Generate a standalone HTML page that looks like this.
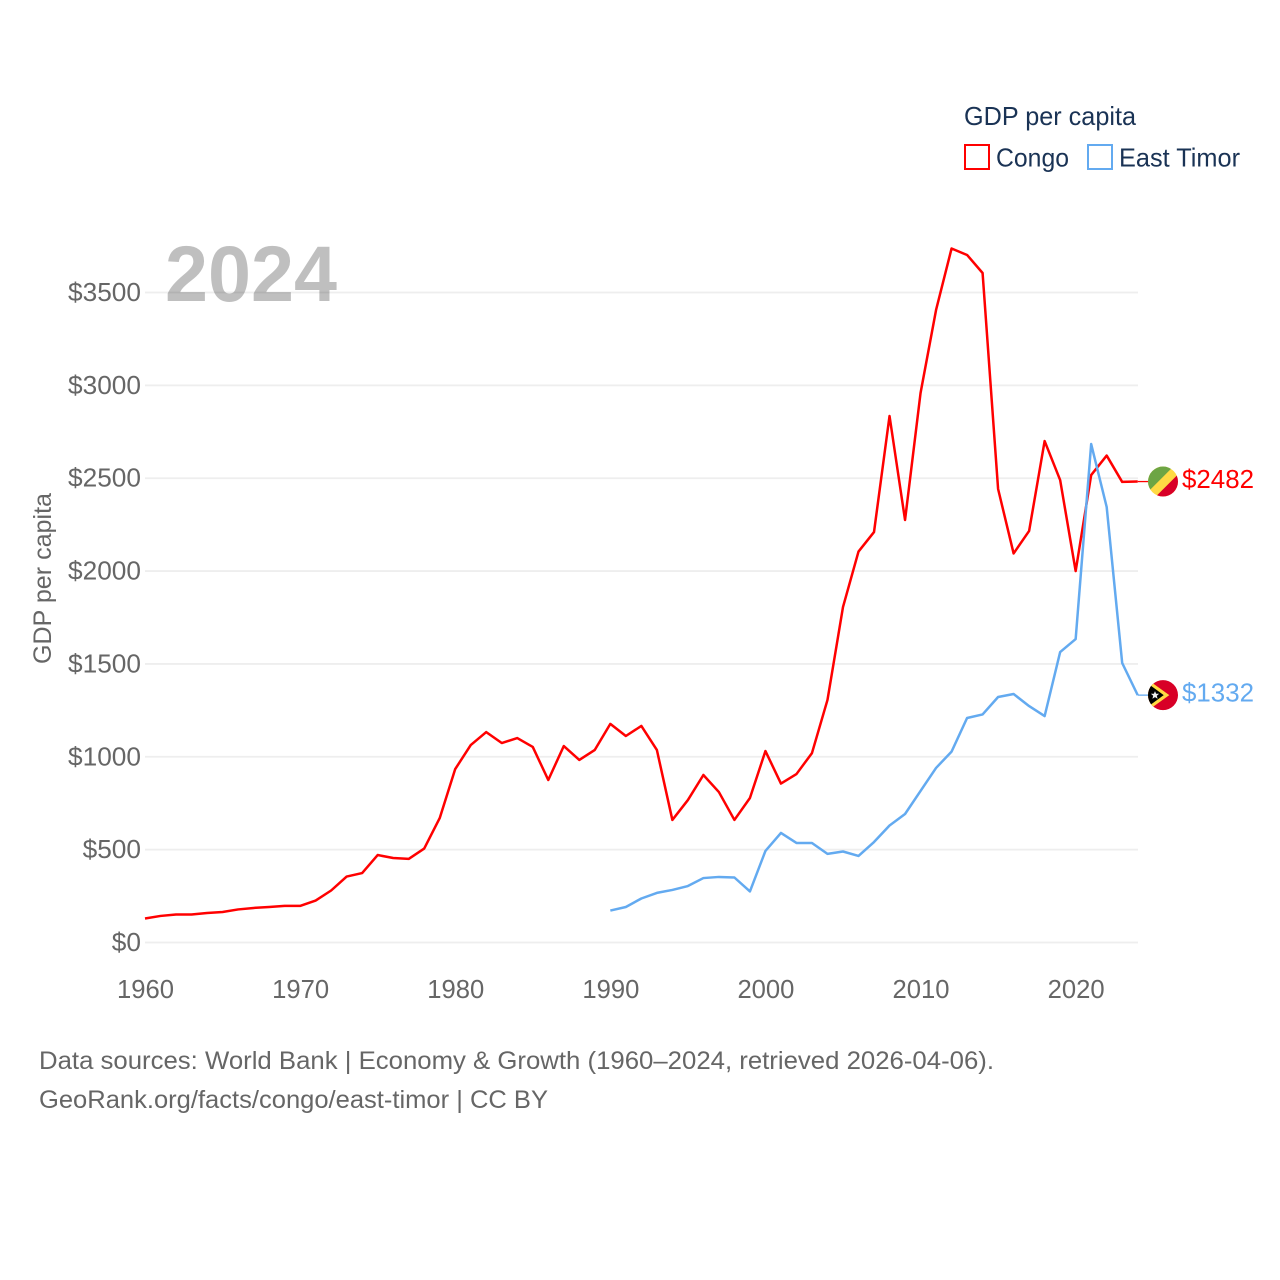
<!DOCTYPE html>
<html lang="en">
<head>
<meta charset="utf-8">
<title>GDP per capita: Congo and East Timor</title>
<style>
html,body{margin:0;padding:0;background:#fff;width:1280px;height:1280px;overflow:hidden}
svg{display:block}
text{font-family:"Liberation Sans",sans-serif}
</style>
</head>
<body>
<svg id="chart" xmlns="http://www.w3.org/2000/svg" width="1280" height="1280" viewBox="0 0 1280 1280">
  <rect x="0" y="0" width="1280" height="1280" fill="#fff"/>
  <g id="grid"></g>
  <g id="yticks"></g>
  <g id="xticks"></g>
  <text x="165" y="301" font-size="79" font-weight="700" fill="#000" fill-opacity="0.25" textLength="172" lengthAdjust="spacingAndGlyphs">2024</text>
  <text transform="translate(51,664) rotate(-90)" font-size="25" fill="#666" textLength="171" lengthAdjust="spacingAndGlyphs">GDP per capita</text>
  <g id="series"></g>
  <g id="flag-congo"></g>
  <g id="flag-timor"></g>
  <g>
    <text x="964" y="125" font-size="26" fill="#1a3355" textLength="172" lengthAdjust="spacingAndGlyphs">GDP per capita</text>
    <g>
      <rect x="965" y="145" width="24" height="24" fill="#fff" stroke="#ff0000" stroke-width="2"/>
      <text x="996" y="166.5" font-size="26" fill="#1a3355" textLength="73" lengthAdjust="spacingAndGlyphs">Congo</text>
    </g>
    <g>
      <rect x="1088" y="145" width="24" height="24" fill="#fff" stroke="#63aaf0" stroke-width="2"/>
      <text x="1119" y="166.5" font-size="26" fill="#1a3355" textLength="121" lengthAdjust="spacingAndGlyphs">East Timor</text>
    </g>
  </g>
  <g>
    <text x="39" y="1069" font-size="25" fill="#666" textLength="955" lengthAdjust="spacingAndGlyphs">Data sources: World Bank | Economy &amp; Growth (1960–2024, retrieved 2026-04-06).</text>
    <text x="39" y="1108" font-size="25" fill="#666" textLength="509" lengthAdjust="spacingAndGlyphs">GeoRank.org/facts/congo/east-timor | CC BY</text>
  </g>
</svg>
<script>
const years = [1960,1961,1962,1963,1964,1965,1966,1967,1968,1969,1970,1971,1972,1973,1974,1975,1976,1977,1978,1979,1980,1981,1982,1983,1984,1985,1986,1987,1988,1989,1990,1991,1992,1993,1994,1995,1996,1997,1998,1999,2000,2001,2002,2003,2004,2005,2006,2007,2008,2009,2010,2011,2012,2013,2014,2015,2016,2017,2018,2019,2020,2021,2022,2023,2024];
const congoValues = [129,143,151,151,159,164,178,186,191,197,197,226,280,355,374,471,455,450,506,670,934,1063,1133,1074,1101,1053,875,1058,983,1037,1177,1112,1166,1037,660,767,902,810,660,778,1031,856,907,1020,1306,1806,2105,2210,2835,2275,2959,3406,3737,3702,3605,2442,2095,2216,2700,2490,2000,2517,2622,2480,2482];
const timorYears = [1990,1991,1992,1993,1994,1995,1996,1997,1998,1999,2000,2001,2002,2003,2004,2005,2006,2007,2008,2009,2010,2011,2012,2013,2014,2015,2016,2017,2018,2019,2020,2021,2022,2023,2024];
const timorValues = [172,191,237,267,283,304,347,353,350,275,493,590,536,536,477,490,466,541,630,692,816,940,1028,1209,1228,1322,1338,1273,1219,1564,1634,2684,2345,1505,1332];
const yTicks = [0,500,1000,1500,2000,2500,3000,3500];
const xTicks = [1960,1970,1980,1990,2000,2010,2020];

const NS = 'http://www.w3.org/2000/svg';
const xScale = function (year) { return 145 + (year - 1960) * (1137.7 - 145) / 64; };
const yScale = function (value) { return 942.5 - value * (650 / 3500); };

function make(parent, tag, attrs, txt) {
  const el = document.createElementNS(NS, tag);
  for (const k in attrs) el.setAttribute(k, attrs[k]);
  if (txt !== undefined) el.textContent = txt;
  parent.appendChild(el);
  return el;
}

const gridG = document.getElementById('grid');
const yG = document.getElementById('yticks');
yTicks.forEach(function (t) {
  const line = make(gridG, 'line', {x1: 145, x2: 1138, y1: yScale(t), y2: yScale(t), stroke: '#eeeeee', 'stroke-width': 1.8});
  
  
  const label = '$' + t;
  const lbl = make(yG, 'text', {x: 141, y: yScale(t) + 8.5, 'font-size': 26, fill: '#666', 'text-anchor': 'end', textLength: label.length * 14.6, lengthAdjust: 'spacingAndGlyphs'}, label);
  
  
});

const xG = document.getElementById('xticks');
xTicks.forEach(function (t) {
  const lbl = make(xG, 'text', {x: xScale(t) + 0.5, y: 998, 'font-size': 26, fill: '#666', 'text-anchor': 'middle', textLength: 57, lengthAdjust: 'spacingAndGlyphs'}, String(t));
  
  
});

const seriesG = document.getElementById('series');
function drawSeries(xs, vs, color, seriesName) {
  const pts = xs.map(function (y, i) { return xScale(y).toFixed(2) + ',' + yScale(vs[i]).toFixed(2); }).join(' ');
  const line = make(seriesG, 'polyline', {points: pts, fill: 'none', stroke: color, 'stroke-width': 2.5, 'stroke-linejoin': 'round'});
  
  
  const lastV = vs[vs.length - 1];
  const lastX = xScale(xs[xs.length - 1]);
  const lastY = yScale(lastV);
  const conn = make(seriesG, 'line', {x1: lastX, x2: 1148, y1: lastY, y2: lastY, stroke: color, 'stroke-width': 1.3});
  
  
  const val = make(seriesG, 'text', {x: 1182, y: lastY + 6.5, 'font-size': 26, fill: color, textLength: 72, lengthAdjust: 'spacingAndGlyphs'}, '$' + lastV);
  
  
  return lastY;
}
const congoY = drawSeries(years, congoValues, '#ff0000', 'congo');
const timorY = drawSeries(timorYears, timorValues, '#63aaf0', 'east-timor');

function clipCircle(id) {
  const defs = make(document.getElementById('chart'), 'defs', {});
  const cp = make(defs, 'clipPath', {id: id});
  make(cp, 'circle', {cx: 0, cy: 0, r: 15});
}
clipCircle('clip-congo');
clipCircle('clip-timor');

const fc = document.getElementById('flag-congo');
fc.setAttribute('transform', 'translate(1163,' + congoY + ')');
const fcInner = make(fc, 'g', {'clip-path': 'url(#clip-congo)'});
make(fcInner, 'rect', {x: -16, y: -16, width: 32, height: 32, fill: '#ffda44'});
make(fcInner, 'polygon', {points: '-20,-20 15.3,-20 -20,15.3', fill: '#6da544'});
make(fcInner, 'polygon', {points: '20,20 -12.2,20 20,-12.2', fill: '#d80027'});

const ft = document.getElementById('flag-timor');
ft.setAttribute('transform', 'translate(1163,' + timorY + ')');
const ftInner = make(ft, 'g', {'clip-path': 'url(#clip-timor)'});
make(ftInner, 'rect', {x: -16, y: -16, width: 32, height: 32, fill: '#d80027'});
make(ftInner, 'polygon', {points: '-16,-16 6.3,0 -16,16', fill: '#ffda44'});
make(ftInner, 'polygon', {points: '-17,-13 0.7,0 -17,13', fill: '#000'});
make(ftInner, 'polygon', {points: '-8,-4 -6.9,-1.4 -3.9,-1.4 -6.2,0.6 -5.4,3.6 -8,2 -10.6,3.6 -9.8,0.6 -12.1,-1.4 -9.1,-1.4', fill: '#eee'});
</script>
</body>
</html>
